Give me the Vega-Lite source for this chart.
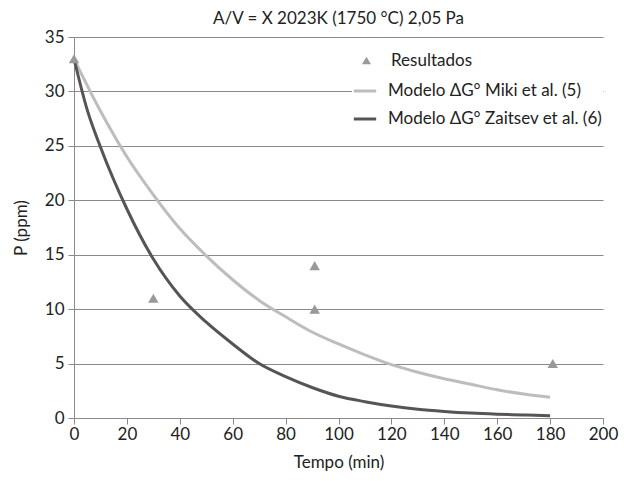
{
  "$schema": "https://vega.github.io/schema/vega-lite/v6.json",
  "autosize": {"type": "none"},
  "width": 529,
  "height": 381,
  "padding": {"left": 74, "top": 37, "right": 27, "bottom": 63},
  "background": "white",
  "config": {
    "font": "Lato",
    "view": {"stroke": null},
    "axis": {"labelFont": "Lato", "titleFont": "Lato", "labelFontSize": 17, "titleFontSize": 17, "titleFontWeight": "normal", "labelColor": "#222", "titleColor": "#222", "domainColor": "#8a8a8a", "tickColor": "#8a8a8a", "gridColor": "#8a8a8a", "labelFlush": false},
    "legend": {"labelFont": "Lato", "labelFontSize": 17, "labelColor": "#222", "labelLimit": 400}
  },
  "title": {"text": "A/V = X 2023K (1750 °C) 2,05 Pa", "fontSize": 17, "fontWeight": "normal", "font": "Lato", "color": "#222", "anchor": "middle", "offset": 0},
  "datasets": {
    "curves": [
      {"series": "Modelo ΔG° Miki et al. (5)", "t": 0, "p": 33},
      {"series": "Modelo ΔG° Miki et al. (5)", "t": 10, "p": 28.2},
      {"series": "Modelo ΔG° Miki et al. (5)", "t": 20, "p": 24.0},
      {"series": "Modelo ΔG° Miki et al. (5)", "t": 30, "p": 20.5},
      {"series": "Modelo ΔG° Miki et al. (5)", "t": 40, "p": 17.4},
      {"series": "Modelo ΔG° Miki et al. (5)", "t": 50, "p": 14.9},
      {"series": "Modelo ΔG° Miki et al. (5)", "t": 60, "p": 12.7},
      {"series": "Modelo ΔG° Miki et al. (5)", "t": 70, "p": 10.8},
      {"series": "Modelo ΔG° Miki et al. (5)", "t": 80, "p": 9.3},
      {"series": "Modelo ΔG° Miki et al. (5)", "t": 90, "p": 7.9},
      {"series": "Modelo ΔG° Miki et al. (5)", "t": 100, "p": 6.8},
      {"series": "Modelo ΔG° Miki et al. (5)", "t": 110, "p": 5.8},
      {"series": "Modelo ΔG° Miki et al. (5)", "t": 120, "p": 4.9},
      {"series": "Modelo ΔG° Miki et al. (5)", "t": 130, "p": 4.2},
      {"series": "Modelo ΔG° Miki et al. (5)", "t": 140, "p": 3.6},
      {"series": "Modelo ΔG° Miki et al. (5)", "t": 150, "p": 3.1},
      {"series": "Modelo ΔG° Miki et al. (5)", "t": 160, "p": 2.6},
      {"series": "Modelo ΔG° Miki et al. (5)", "t": 170, "p": 2.2},
      {"series": "Modelo ΔG° Miki et al. (5)", "t": 180, "p": 1.9},
      {"series": "Modelo ΔG° Zaitsev et al. (6)", "t": 0, "p": 33},
      {"series": "Modelo ΔG° Zaitsev et al. (6)", "t": 5, "p": 28.3},
      {"series": "Modelo ΔG° Zaitsev et al. (6)", "t": 10, "p": 24.9},
      {"series": "Modelo ΔG° Zaitsev et al. (6)", "t": 20, "p": 19.2},
      {"series": "Modelo ΔG° Zaitsev et al. (6)", "t": 30, "p": 14.6},
      {"series": "Modelo ΔG° Zaitsev et al. (6)", "t": 40, "p": 11.2},
      {"series": "Modelo ΔG° Zaitsev et al. (6)", "t": 50, "p": 8.8},
      {"series": "Modelo ΔG° Zaitsev et al. (6)", "t": 60, "p": 6.8},
      {"series": "Modelo ΔG° Zaitsev et al. (6)", "t": 70, "p": 5.0},
      {"series": "Modelo ΔG° Zaitsev et al. (6)", "t": 80, "p": 3.8},
      {"series": "Modelo ΔG° Zaitsev et al. (6)", "t": 90, "p": 2.8},
      {"series": "Modelo ΔG° Zaitsev et al. (6)", "t": 100, "p": 2.0},
      {"series": "Modelo ΔG° Zaitsev et al. (6)", "t": 110, "p": 1.5},
      {"series": "Modelo ΔG° Zaitsev et al. (6)", "t": 120, "p": 1.1},
      {"series": "Modelo ΔG° Zaitsev et al. (6)", "t": 130, "p": 0.8},
      {"series": "Modelo ΔG° Zaitsev et al. (6)", "t": 140, "p": 0.6},
      {"series": "Modelo ΔG° Zaitsev et al. (6)", "t": 150, "p": 0.45},
      {"series": "Modelo ΔG° Zaitsev et al. (6)", "t": 160, "p": 0.35},
      {"series": "Modelo ΔG° Zaitsev et al. (6)", "t": 170, "p": 0.28},
      {"series": "Modelo ΔG° Zaitsev et al. (6)", "t": 180, "p": 0.2}
    ],
    "points": [
      {"series": "Resultados", "t": 0, "p": 33},
      {"series": "Resultados", "t": 30, "p": 11},
      {"series": "Resultados", "t": 91, "p": 14},
      {"series": "Resultados", "t": 91, "p": 10},
      {"series": "Resultados", "t": 181, "p": 5}
    ]
  },
  "layer": [
    {
      "data": {"name": "curves"},
      "mark": {"type": "line", "strokeWidth": 3, "interpolate": "monotone"},
      "encoding": {
        "x": {"field": "t", "type": "quantitative", "scale": {"domain": [0, 200], "nice": false}, "axis": {"title": "Tempo (min)", "values": [0,20,40,60,80,100,120,140,160,180,200], "grid": false, "tickSize": 6, "labelPadding": 2, "titlePadding": 12}},
        "y": {"field": "p", "type": "quantitative", "scale": {"domain": [0, 35], "nice": false}, "axis": {"title": "P (ppm)", "values": [0,5,10,15,20,25,30,35], "grid": true, "tickSize": 6, "labelPadding": 4, "titlePadding": 14}},
        "color": {"field": "series", "type": "nominal", "scale": {"domain": ["Modelo ΔG° Miki et al. (5)", "Modelo ΔG° Zaitsev et al. (6)"], "range": ["#bdbdbd", "#555555"]},
          "legend": {"title": null, "orient": "none", "legendX": 278, "legendY": 41, "symbolType": "stroke", "symbolStrokeWidth": 3, "symbolSize": 500, "rowPadding": 7, "labelOffset": 10, "fillColor": "white"}}
      }
    },
    {
      "data": {"name": "points"},
      "mark": {"type": "point", "filled": true, "size": 110, "opacity": 1},
      "encoding": {
        "x": {"field": "t", "type": "quantitative"},
        "y": {"field": "p", "type": "quantitative"},
        "shape": {"field": "series", "type": "nominal", "scale": {"range": ["triangle-up"]}, "legend": {"title": null, "orient": "none", "legendX": 284, "legendY": 15, "labelOffset": 16, "symbolFillColor": "#999999", "symbolStrokeColor": "#999999", "symbolSize": 80}},
        "color": {"value": "#999999"}
      }
    }
  ]
}
